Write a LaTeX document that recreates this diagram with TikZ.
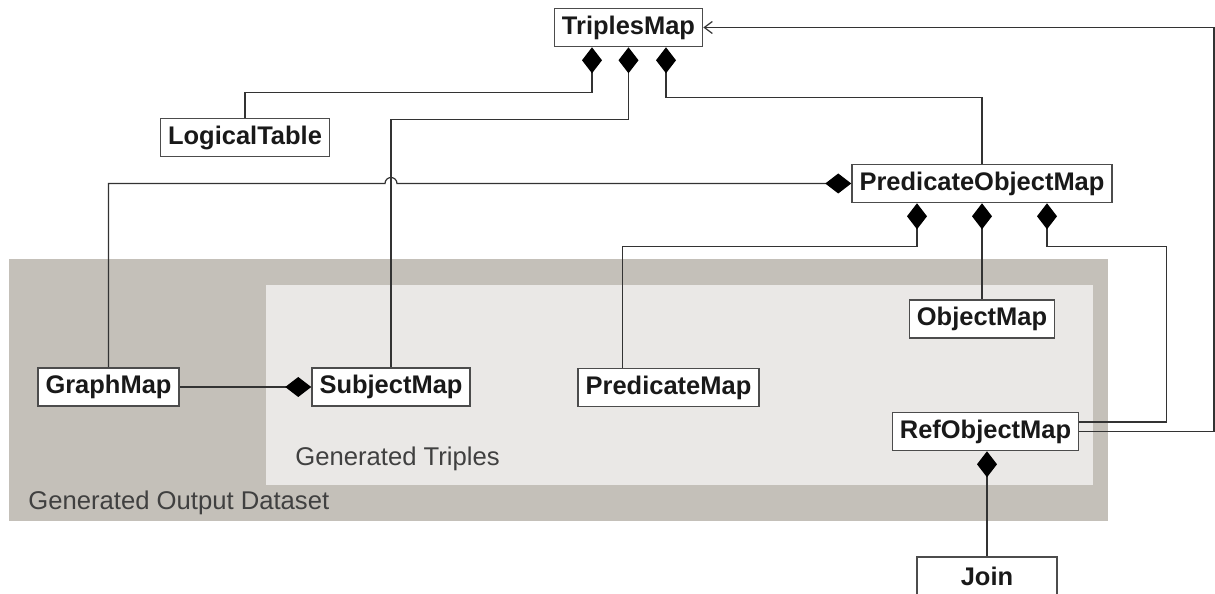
\documentclass[tikz,border=0pt]{standalone}
\usepackage{fontspec}
\setmainfont{Liberation Sans}
\usetikzlibrary{arrows.meta}
\usetikzlibrary{calc}
\definecolor{outergray}{HTML}{C4C0B9}
\definecolor{innergray}{HTML}{EAE8E6}
\tikzset{cls/.style={draw=black!70, line width=0.9pt, fill=white, text=black!90,
    font=\bfseries\fontsize{14.5}{17}\selectfont,
    minimum height=0.76cm, inner xsep=0.15cm, inner ysep=0pt}}
\tikzset{comp/.style={draw=black!80, line width=0.7pt, {Diamond[length=0.52cm, width=0.4cm, color=black]}-}}
\tikzset{assoc/.style={draw=black!80, line width=0.7pt, -{Straight Barb[length=0.16cm, width=0.24cm]}}}
\tikzset{area/.style={font=\fontsize{14.6}{17}\selectfont, text=black!75, anchor=base west, inner sep=0pt}}

\begin{document}
\begin{tikzpicture}[x=0.02cm, y=-0.02cm]
    \useasboundingbox (0,0) rectangle (1215,594);

    % output dataset with the triples inside
    \fill[outergray] (9,259) rectangle (1108,521);
    \fill[innergray] (266,285) rectangle (1093,485);
    \node[area] (GT) at (295,466) {Generated Triples};
    \node[area] (GOD) at (28,510) {Generated Output Dataset};

    \node[cls] (TM) at (628.5,27.5) {TriplesMap};
    \node[cls] (LT) at (245,137.5) {LogicalTable};
    \node[cls] (POM) at (982,183.5) {PredicateObjectMap};
    \node[cls] (GM) at (108.5,387) {GraphMap};
    \node[cls] (SM) at (391,387) {SubjectMap};
    \node[cls] (PM) at (668.5,387.5) {PredicateMap};
    \node[cls] (OM) at (982,319) {ObjectMap};
    \node[cls] (ROM) at (985.5,431.5) {RefObjectMap};
    \node[cls, minimum width=2.8cm] (J) at (987,576) {Join};

    \coordinate (tm1) at ($(TM.south)+(-36.5,0)$);
    \coordinate (tm3) at ($(TM.south)+(37.5,0)$);
    \coordinate (pom1) at ($(POM.south)+(-65,0)$);
    \coordinate (pom3) at ($(POM.south)+(65,0)$);
    \coordinate (rim) at (1214,25);

    \draw[comp] (tm1) -- ++(0,45) -| (LT.north);
    \draw[comp] (TM.south) -- ++(0,72) -| (SM.north);
    \draw[comp] (tm3) -- ++(0,50) -| (POM.north);

    % hop over the SubjectMap line
    \draw[comp] (POM.west) -- ($(SM.north |- POM.west)+(6,0)$)
        arc[start angle=0, end angle=180, radius=0.12cm]
        -- (GM.north |- POM.west) -- (GM.north);

    \draw[comp] (pom1) -- ++(0,43) -| ($(PM.north west)+(45,0)$);
    \draw[comp] (POM.south) -- (OM.north);
    \draw[comp] (pom3) -- ++(0,43) -| ($(ROM.east)+(87,-9.5)$) -- ($(ROM.east)+(0,-9.5)$);

    \draw[comp] (SM.west) -- (GM.east);
    \draw[comp] (J.north |- ROM.south) -- (J.north);

    \draw[assoc] (ROM.east) -| (TM.east -| rim) -- (TM.east);
\end{tikzpicture}
\end{document}
